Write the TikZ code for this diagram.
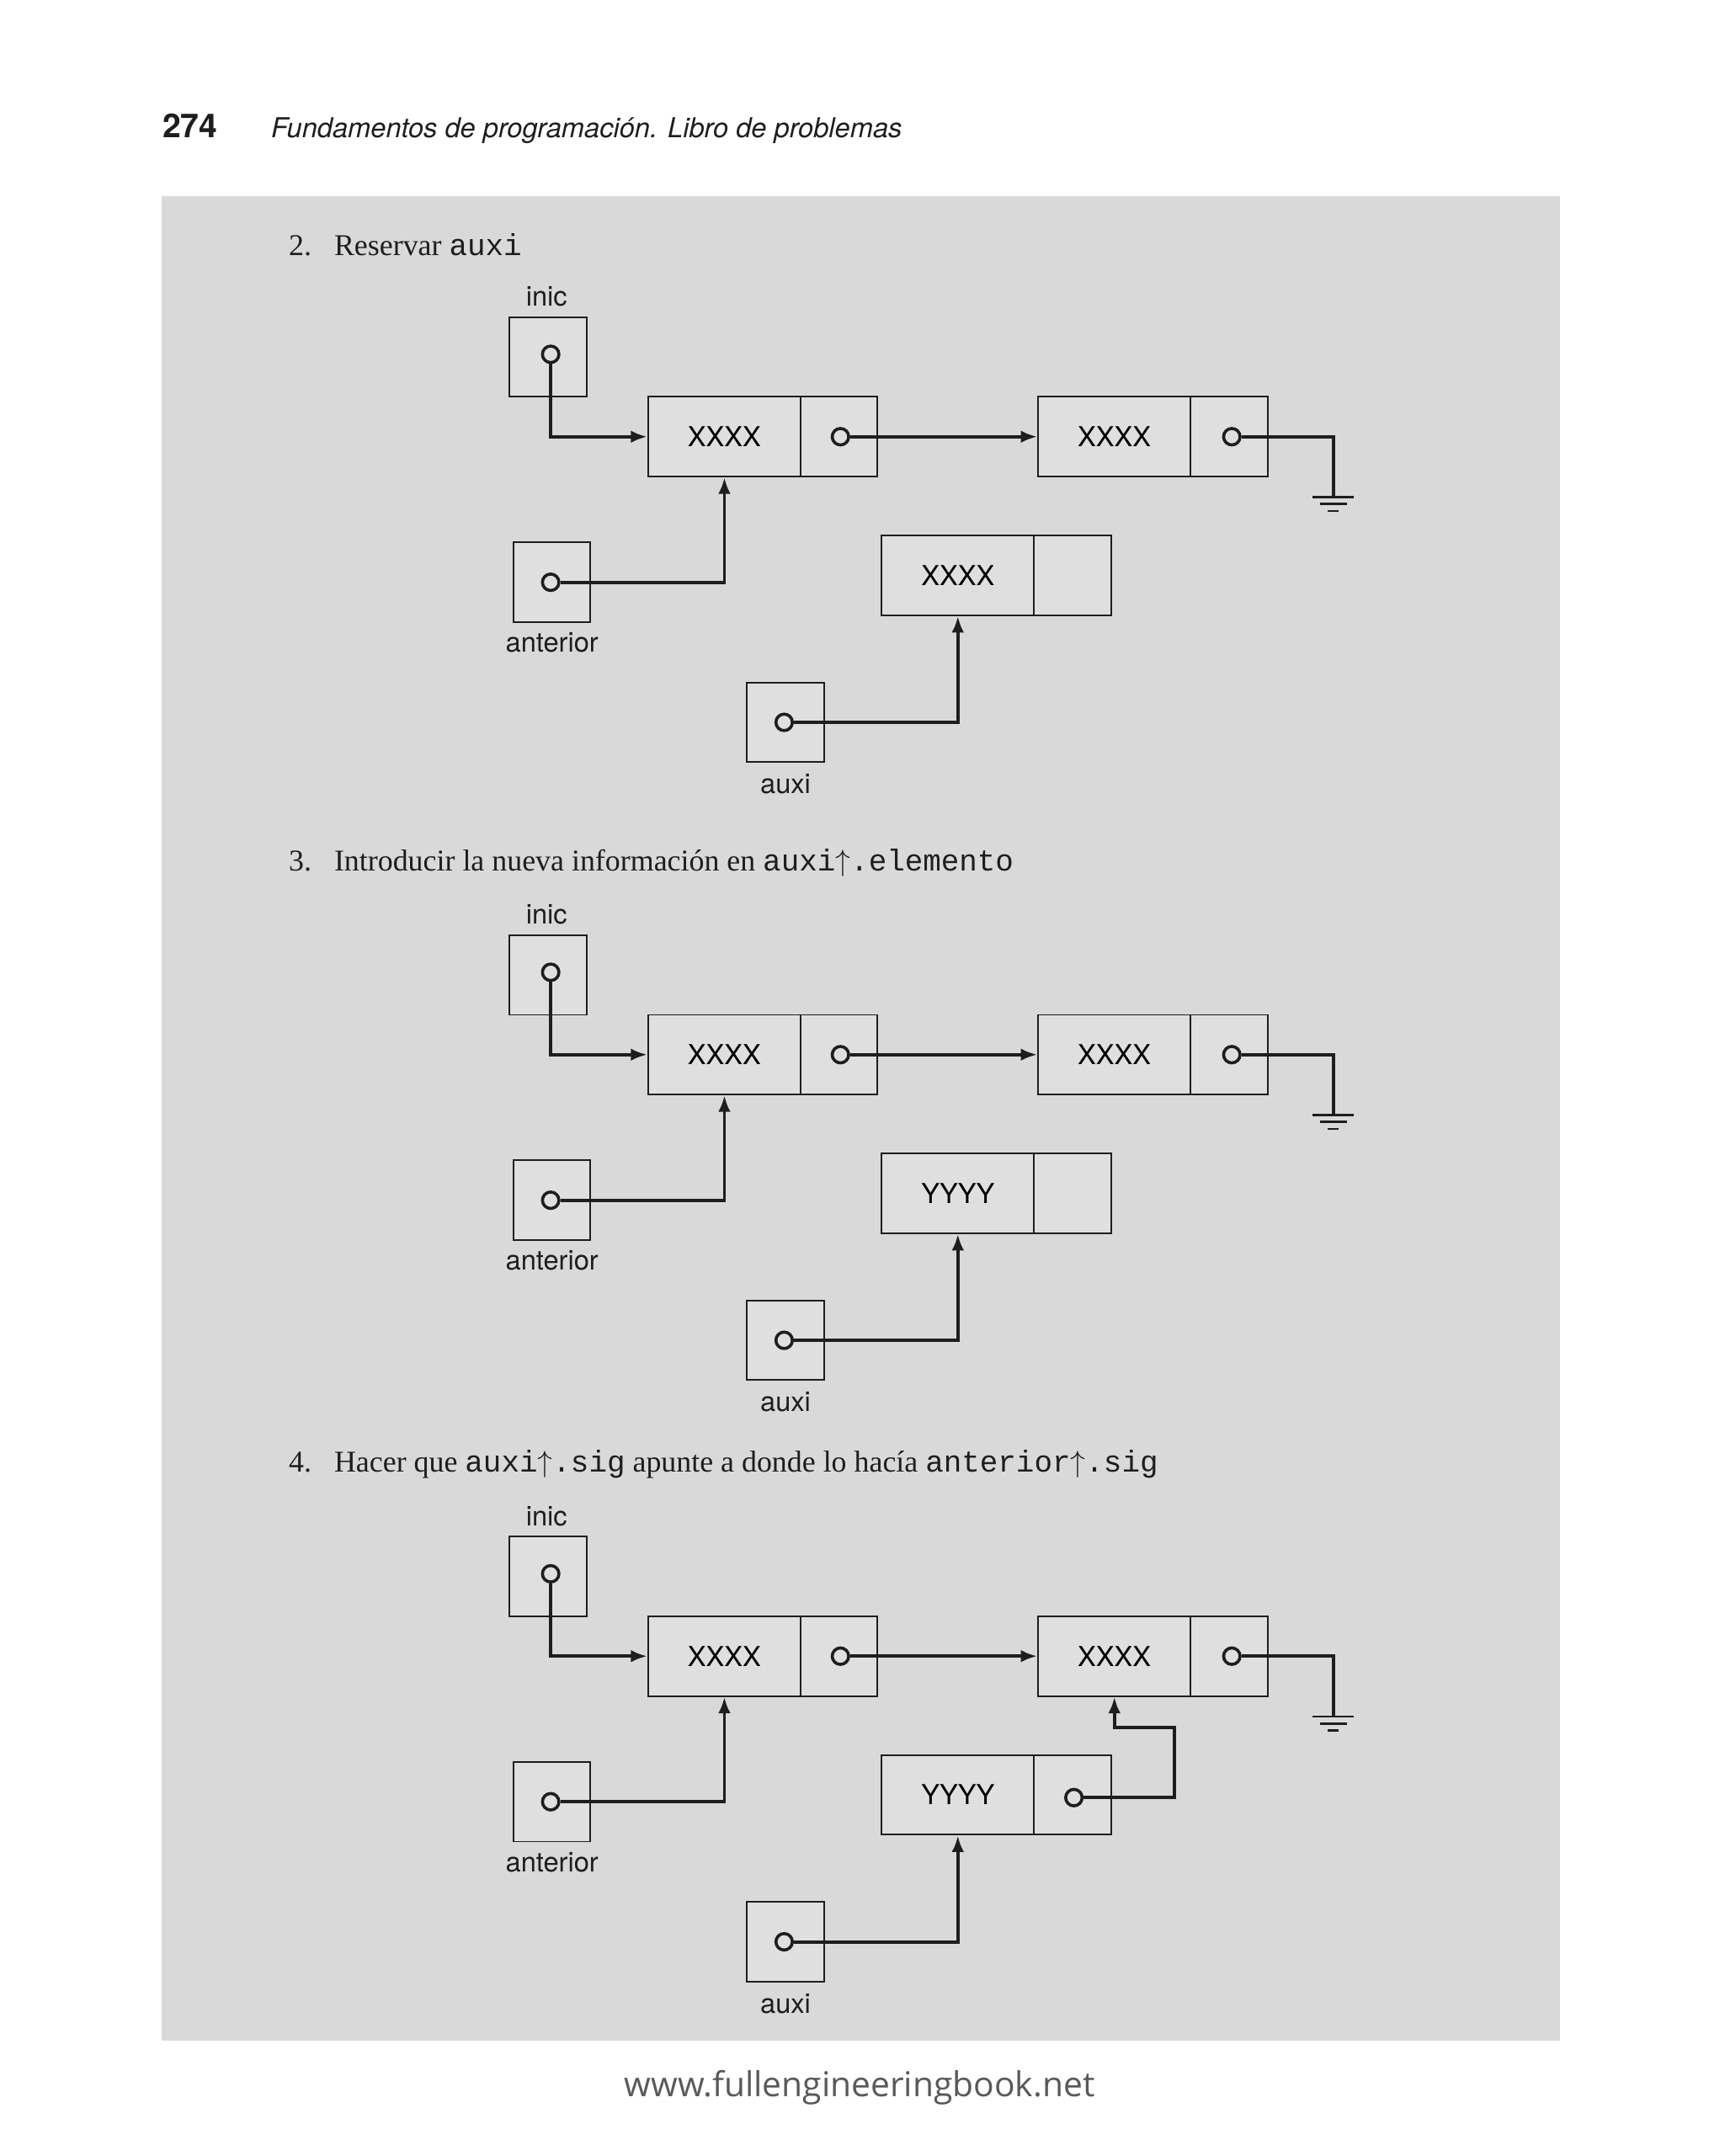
\documentclass[tikz,border=0pt]{standalone}
\usepackage{fontspec}
\setmainfont{Liberation Serif}
\setmonofont{Liberation Mono}
\newfontfamily\hel{TeX Gyre Heros}
\newfontfamily\foot{Open Sans}
\definecolor{panel}{HTML}{DAD9DA}
\definecolor{boxin}{HTML}{E0DFE0}
\definecolor{ink}{HTML}{1E1E1E}
\tikzset{
  box/.style={draw=ink,line width=0.6pt,fill=boxin,minimum width=28pt,minimum height=29pt,inner sep=0pt},
  data/.style={draw=ink,line width=0.6pt,fill=boxin,minimum width=55.5pt,minimum height=29pt,inner sep=0pt,font=\hel\fontsize{10}{12}\selectfont},
  ptr/.style={box},
  dot/.style={circle,draw=ink,line width=1.1pt,minimum size=6pt,inner sep=0pt},
  lbl/.style={font=\hel\fontsize{10}{12}\selectfont,text=ink,inner sep=0pt},
  conn/.style={draw=ink,line width=1.2pt,-{Latex[length=6pt,width=4.5pt]}},
  wire/.style={draw=ink,line width=1.2pt},
  head/.style={font=\fontsize{11}{13}\selectfont,text=ink,anchor=base west,inner sep=0pt}
}
\usetikzlibrary{arrows.meta}
\newcommand\mydiag[3]{%
\begin{scope}[shift={(0,#2)}]
 \node[box] (inic#1) at (399,260) {};
 \node[lbl] (li#1) at (398,216) {inic};
 \node[dot] (ci#1) at (401,258) {};
 \node[data] (da#1) at (527.5,318) {XXXX};
 \node[ptr] (pa#1) at (611,318) {};
 \node[dot] (ca#1) at (612,318) {};
 \node[data] (db#1) at (811.5,318) {XXXX};
 \node[ptr] (pb#1) at (895,318) {};
 \node[dot] (cb#1) at (897,318) {};
 \coordinate (g#1) at (971,362);
 \draw[wire] (cb#1) -| (g#1);
 \draw[line width=0.8pt,draw=ink] (956,362) -- (986,362) (961,367) -- (981,367) (967,372) -- (975,372);
 \draw[conn] (ci#1) |- (da#1.west);
 \draw[conn] (ca#1) -- (db#1.west);
 \node[box] (ant#1) at (402,424) {};
 \node[dot] (cn#1) at (401,424) {};
 \node[lbl] (la#1) at (402,468) {anterior};
 \draw[conn] (cn#1) -| (da#1.south);
 \node[data] (dn#1) at (697.5,419) {#3};
 \node[ptr] (pn#1) at (781,419) {};
 \node[box] (aux#1) at (572,526) {};
 \node[dot] (cx#1) at (571,526) {};
 \node[lbl] (lx#1) at (572,571) {auxi};
 \draw[conn] (cx#1) -| (dn#1.south);
\end{scope}}
\begin{document}
\begin{tikzpicture}[x=0.5pt,y=-0.5pt]
\fill[white] (0,0) rectangle (1256,1570);
\useasboundingbox (0,0) rectangle (1256,1570);
\fill[panel] (118,143) rectangle (1136,1486);
\node[anchor=base west,inner sep=0pt,font=\hel\bfseries\fontsize{12}{14}\selectfont,text=ink] (pg) at (118,100) {274};
\node[anchor=base west,inner sep=0pt,font=\hel\itshape\fontsize{10}{12}\selectfont,text=ink] (tt) at (197,100) {Fundamentos de programación. Libro de problemas};
\node[head] (n2) at (210,186) {2.};
\node[head] (h2) at (243,186) {Reservar \texttt{auxi}};
\node[head] (n3) at (210,634) {3.};
\node[head] (h3) at (243,634) {Introducir la nueva información en \texttt{auxi$\uparrow$.elemento}};
\node[head] (n4) at (210,1072) {4.};
\node[head] (h4) at (243,1072) {Hacer que \texttt{auxi$\uparrow$.sig} apunte a donde lo hacía \texttt{anterior$\uparrow$.sig}};
\mydiag{1}{0}{XXXX}
\mydiag{2}{450}{YYYY}
\mydiag{3}{888}{YYYY}
\node[dot] (cy3) at (782,1309) {};
\draw[conn] (cy3) -| (855,1258) -| (db3.south);
\node[font=\foot\fontsize{12.5}{15}\selectfont,text=black!65,inner sep=0pt] (ft) at (626,1520) {www.fullengineeringbook.net};
\end{tikzpicture}
\end{document}
